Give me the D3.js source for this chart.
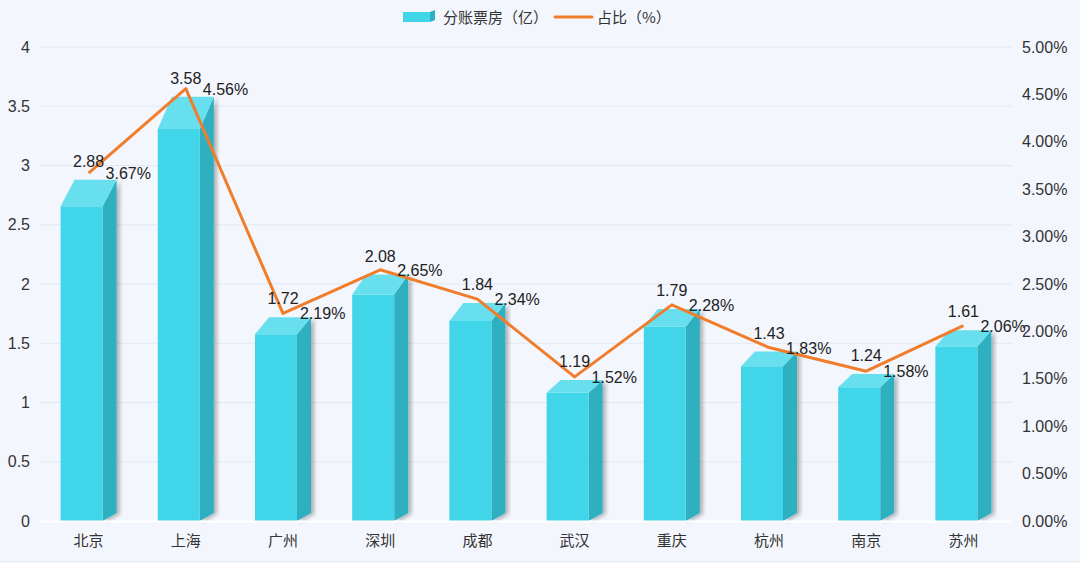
<!DOCTYPE html>
<html><head><meta charset="utf-8">
<script src="https://cdn.jsdelivr.net/npm/d3@7/dist/d3.min.js"></script>
<style>
html,body{margin:0;padding:0;background:#f3f6fd;}
svg{display:block;font-family:"PingFang SC","Noto Sans CJK SC","Noto Sans",sans-serif;}
.num{font-family:"Liberation Sans",Arial,sans-serif;}
</style></head>
<body>
<svg id="c" width="1080" height="563"></svg>
<script>
const categories = ["北京","上海","广州","深圳","成都","武汉","重庆","杭州","南京","苏州"];
const boxOffice = [2.88,3.58,1.72,2.08,1.84,1.19,1.79,1.43,1.24,1.61];
const share = [3.67,4.56,2.19,2.65,2.34,1.52,2.28,1.83,1.58,2.06];
const leftTicks = [0,0.5,1,1.5,2,2.5,3,3.5,4];
const rightTicks = [0,0.5,1,1.5,2,2.5,3,3.5,4,4.5,5];
const legendNames = ["分账票房（亿）","占比（%）"];

const W=1080,H=563;
const svg=d3.select("#c");
svg.append("rect").attr("width",W).attr("height",H).attr("fill","#f3f6fd");
svg.append("line").attr("x1",0).attr("x2",W).attr("y1",561.5).attr("y2",561.5).attr("stroke","#e6eaf2").attr("stroke-width",1);

const defs=svg.append("defs");
const f=defs.append("filter").attr("id","sh").attr("x","-20%").attr("y","-20%").attr("width","160%").attr("height","140%");
f.append("feDropShadow").attr("dx",3).attr("dy",1).attr("stdDeviation",2).attr("flood-color","#000").attr("flood-opacity",0.3);

const x=d3.scaleBand().domain(categories).range([40,1012]).padding(0);
const yL=d3.scaleLinear().domain([0,4]).range([521,47]);
const yR=d3.scaleLinear().domain([0,5]).range([521,47]);

// grid
svg.append("g").selectAll("line").data(leftTicks.filter(d=>d>0)).join("line")
  .attr("x1",40).attr("x2",1012).attr("y1",d=>yL(d)).attr("y2",d=>yL(d))
  .attr("stroke","#e1e8f5").attr("stroke-width",1);

// left axis
const axL=svg.append("g").attr("transform","translate(40,0)")
  .call(d3.axisLeft(yL).tickValues(leftTicks).tickSize(0).tickPadding(10).tickFormat(d=>d3.format("~g")(d)));
axL.select(".domain").remove();
axL.selectAll("text").attr("class","num").attr("font-size",16).attr("fill","#333");

const axR=svg.append("g").attr("transform","translate(1012,0)")
  .call(d3.axisRight(yR).tickValues(rightTicks).tickSize(0).tickPadding(10).tickFormat(d=>d.toFixed(2)+"%"));
axR.select(".domain").remove();
axR.selectAll("text").attr("class","num").attr("font-size",16).attr("fill","#333");
svg.selectAll("g").attr("font-family",null);

// bars
const frontW=42, dx=14;
const g=svg.append("g");
const bars=g.selectAll("g.bar").data(categories.map((c,i)=>({c,v:boxOffice[i]}))).join("g").attr("class","bar");
bars.each(function(d){
  const cx=x(d.c)+x.bandwidth()/2;
  const x0=cx-(frontW+dx)/2, x1=x0+frontW, x2=x1+dx;
  const backTop=yL(d.v);
  const base=yL(0);
  const dy=3+0.069*(base-backTop);
  const frontTop=backTop+dy;
  const s=d3.select(this);
  s.append("path").attr("filter","url(#sh)")
   .attr("d",`M${x1},${frontTop}L${x2},${backTop}L${x2},${base-8}L${x1},${base}Z`).attr("fill","#2fb0c1");
  s.append("rect").attr("x",x0).attr("y",frontTop).attr("width",frontW).attr("height",base-frontTop).attr("fill","#40d5e8");
  s.append("path").attr("d",`M${x0},${frontTop}L${x0+dx},${backTop}L${x2},${backTop}L${x1},${frontTop}Z`).attr("fill","#68dfee");
});

// baseline
svg.append("line").attr("x1",40).attr("x2",1012).attr("y1",yL(0)+0.5).attr("y2",yL(0)+0.5).attr("stroke","#ffffff").attr("stroke-width",2);

// x labels
svg.append("g").selectAll("text").data(categories).join("text")
  .attr("x",d=>x(d)+x.bandwidth()/2).attr("y",546).attr("text-anchor","middle")
  .attr("font-size",15).attr("fill","#333").text(d=>d);

// line
const pts=categories.map((c,i)=>[x(c)+x.bandwidth()/2,yR(share[i])]);
svg.append("path").attr("d",d3.line()(pts)).attr("fill","none").attr("stroke","#f07d2c").attr("stroke-width",3).attr("stroke-linejoin","round");

// bar labels
svg.append("g").selectAll("text").data(boxOffice).join("text").attr("class","num")
  .attr("x",(d,i)=>x(categories[i])+x.bandwidth()/2).attr("y",d=>yL(d)-13)
  .attr("text-anchor","middle").attr("font-size",16).attr("fill","#222").text(d=>d.toFixed(2));

// share labels
svg.append("g").selectAll("text").data(share).join("text").attr("class","num")
  .attr("x",(d,i)=>x(categories[i])+x.bandwidth()/2+17).attr("y",d=>yR(d)+6)
  .attr("font-size",16).attr("fill","#222").text(d=>d.toFixed(2)+"%");

// legend
const lg=svg.append("g");
lg.append("rect").attr("x",403).attr("y",12).attr("width",27).attr("height",10).attr("fill","#40d5e8");
lg.append("path").attr("d","M430,12L435,10L435,20L430,22Z").attr("fill","#2fb0c1");
lg.append("text").attr("x",443).attr("y",22.5).attr("font-size",15).attr("fill","#333").text(legendNames[0]);
lg.append("line").attr("x1",555).attr("x2",592).attr("y1",17).attr("y2",17).attr("stroke","#f07d2c").attr("stroke-width",3).attr("stroke-linecap","round");
lg.append("text").attr("x",597).attr("y",22.5).attr("font-size",15).attr("fill","#333").text(legendNames[1]);
</script>
</body></html>
